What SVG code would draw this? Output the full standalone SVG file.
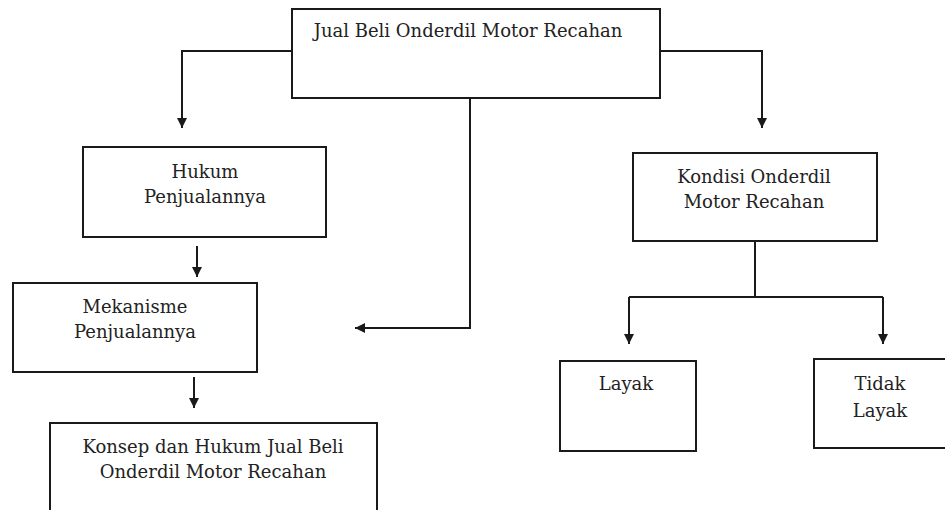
<svg xmlns="http://www.w3.org/2000/svg" width="945" height="510" viewBox="0 0 945 510">
<style>
.box{fill:#fff;stroke:#1a1a1a;stroke-width:2}
.t{font-family:"DejaVu Serif","Liberation Serif",serif;font-size:18px;fill:#222;text-anchor:middle}
.c{fill:none;stroke:#1a1a1a;stroke-width:2}
</style>
<defs>
<marker id="ah" viewBox="0 0 10 10" refX="10" refY="5" markerWidth="5" markerHeight="5" orient="auto" markerUnits="strokeWidth">
<path d="M0,0 L10,5 L0,10 Z" fill="#1a1a1a"/>
</marker>
</defs>
<rect width="945" height="510" fill="#fff"/>
<g id="connectors">
<path class="c" d="M292,51 H182 V128" marker-end="url(#ah)"/>
<path class="c" d="M660,51 H762 V128" marker-end="url(#ah)"/>
<path class="c" d="M470,98 V328 H355" marker-end="url(#ah)"/>
<path class="c" d="M197,246 V277" marker-end="url(#ah)"/>
<path class="c" d="M194,377 V408" marker-end="url(#ah)"/>
<path class="c" d="M755,241 V297"/>
<path class="c" d="M629,297 H883"/>
<path class="c" d="M629,297 V344" marker-end="url(#ah)"/>
<path class="c" d="M883,297 V344" marker-end="url(#ah)"/>
</g>
<g id="n-top">
<rect class="box" x="292" y="9" width="368" height="89"/>
<text class="t" x="468" y="37">Jual Beli Onderdil Motor Recahan</text>
</g>
<g id="n-hukum">
<rect class="box" x="83" y="147" width="243" height="90"/>
<text class="t" x="205" y="178">Hukum</text>
<text class="t" x="205" y="203">Penjualannya</text>
</g>
<g id="n-mekanisme">
<rect class="box" x="13" y="283" width="244" height="89"/>
<text class="t" x="135" y="313">Mekanisme</text>
<text class="t" x="135" y="338">Penjualannya</text>
</g>
<g id="n-konsep">
<rect class="box" x="50" y="423" width="327" height="100"/>
<text class="t" x="213" y="453">Konsep dan Hukum Jual Beli</text>
<text class="t" x="213" y="478">Onderdil Motor Recahan</text>
</g>
<g id="n-kondisi">
<rect class="box" x="633" y="153" width="244" height="88"/>
<text class="t" x="754" y="183">Kondisi Onderdil</text>
<text class="t" x="754" y="208">Motor Recahan</text>
</g>
<g id="n-layak">
<rect class="box" x="560" y="361" width="136" height="90"/>
<text class="t" x="626" y="390">Layak</text>
</g>
<g id="n-tidak">
<rect class="box" x="814" y="359" width="140" height="89"/>
<text class="t" x="880" y="390">Tidak</text>
<text class="t" x="880" y="417">Layak</text>
</g>
</svg>
